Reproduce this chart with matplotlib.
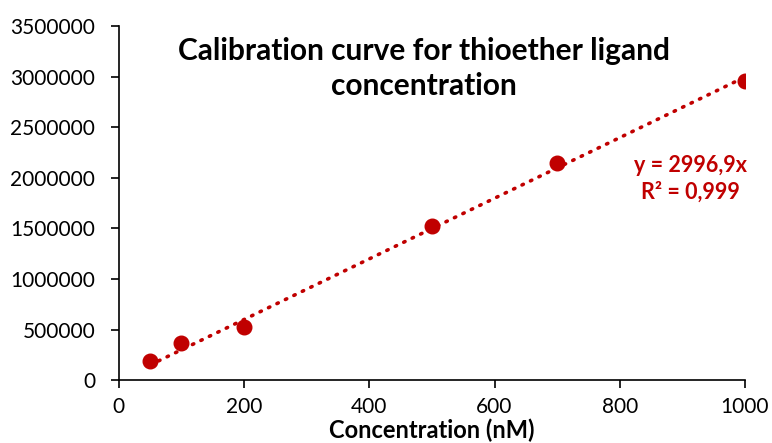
import matplotlib
matplotlib.use("Agg")
import matplotlib.pyplot as plt
from matplotlib.ticker import StrMethodFormatter
import numpy as np

plt.rcParams['font.family'] = ['Lato', 'DejaVu Sans']

# data
conc = [50, 100, 200, 500, 700, 1000]
signal = [188000, 366000, 524000, 1522000, 2145000, 2956000]
slope = 2996.9

red = '#C00000'

fig = plt.figure(figsize=(7.72, 4.43), dpi=100)
ax = fig.add_axes([0.154, 0.142, 0.811, 0.799])

# trendline through origin (Excel style, spans the data range)
xt = np.array([min(conc), max(conc)])
ax.plot(xt, slope * xt, color=red, lw=2.6, ls=(0, (0.4, 2.2)),
        dash_capstyle='round', zorder=2)
ax.plot(conc, signal, 'o', color=red, ms=10.5, zorder=3)

ax.set_xlim(0, 1000)
ax.set_ylim(0, 3500000)
ax.set_xticks(range(0, 1001, 200))
ax.set_yticks(range(0, 3500001, 500000))
ax.yaxis.set_major_formatter(StrMethodFormatter('{x:.0f}'))
ax.tick_params(labelsize=15, length=6, width=1.2, direction='out', colors='black')
ax.xaxis.set_tick_params(pad=6)
ax.yaxis.set_tick_params(pad=11)
for s in ['top', 'right']:
    ax.spines[s].set_visible(False)
for s in ['left', 'bottom']:
    ax.spines[s].set_linewidth(1.2)

ax.set_xlabel('Concentration (nM)', fontsize=17, fontweight='bold', labelpad=1)

ax.text(0.487, 0.97, 'Calibration curve for thioether ligand\nconcentration',
        transform=ax.transAxes, ha='center', va='top', fontsize=21.5,
        fontweight='bold', linespacing=1.3)

ax.text(0.913, 0.569, 'y = 2996,9x\nR² = 0,999', transform=ax.transAxes,
        ha='center', va='center', fontsize=15.5, fontweight='bold', color=red,
        linespacing=1.3)

fig.savefig('out.png', dpi=100)
